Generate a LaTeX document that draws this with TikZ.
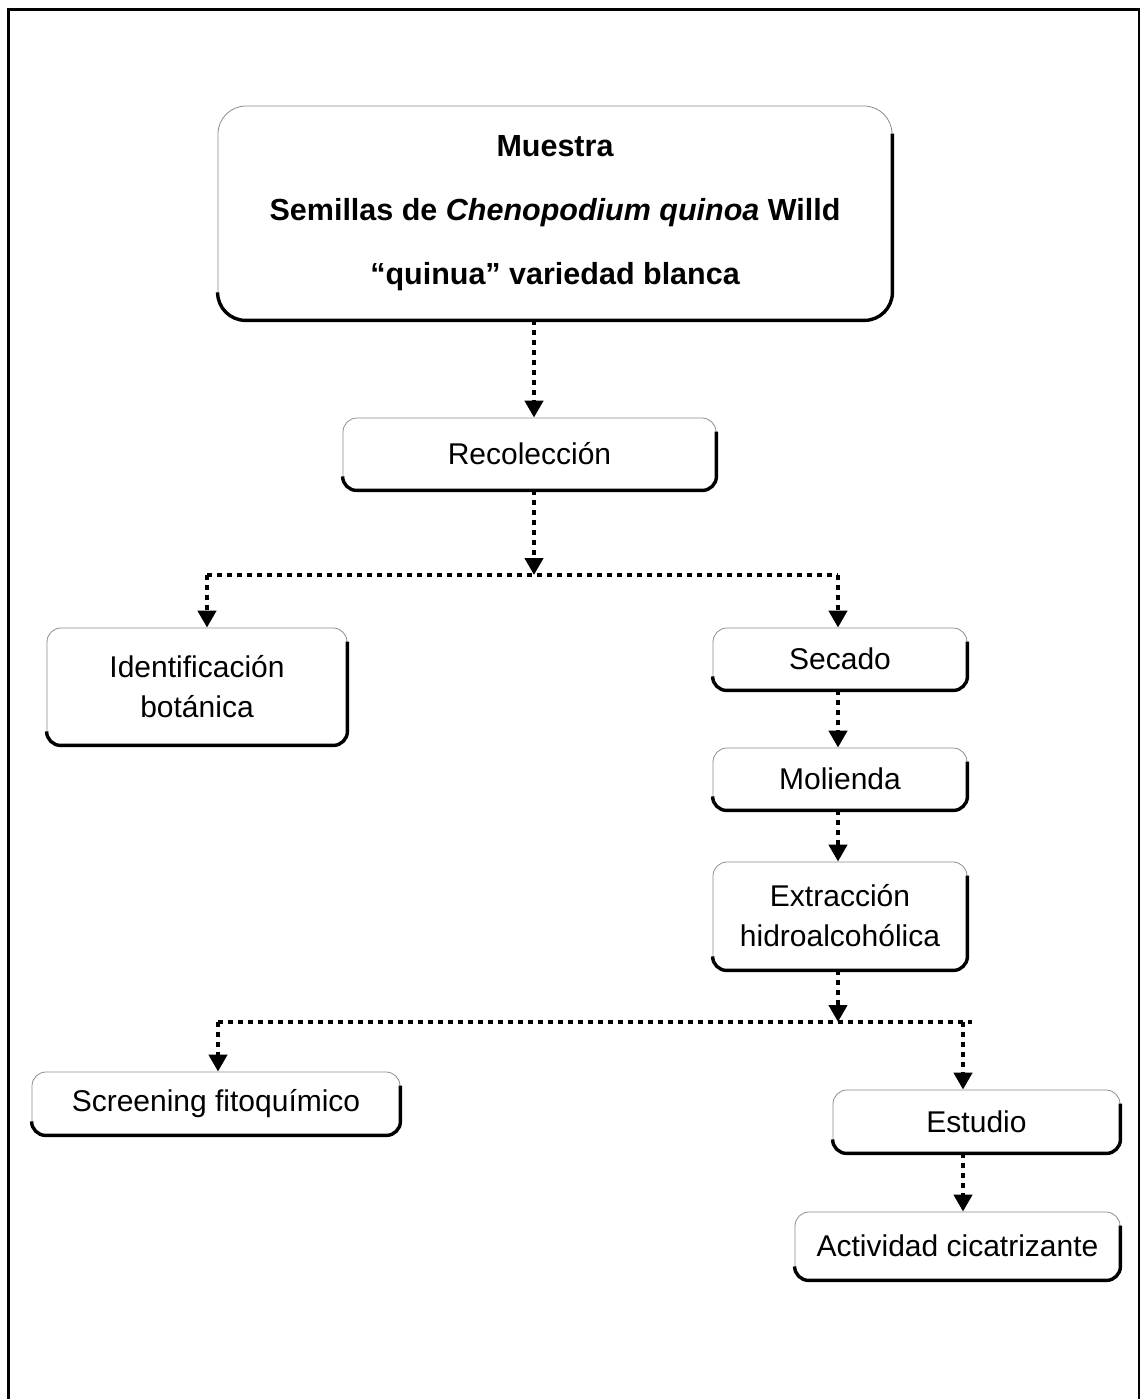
\documentclass[tikz,border=0pt]{standalone}
\usepackage{fontspec}
\setmainfont{Liberation Sans}
\usetikzlibrary{arrows.meta,calc}
\tikzset{
  stepbox/.style={draw=black!45, line width=0.8pt, rounded corners=14pt, align=center,
    inner sep=0pt, font=\fontsize{30}{40}\selectfont},
  bigbox/.style={stepbox, rounded corners=28pt, font=\bfseries\fontsize{30.5}{64}\selectfont},
  heavy/.style={draw=black, line width=3.4pt},
  dots/.style={line width=4.5pt, dash pattern=on 4.5pt off 5.5pt},
  arr/.style={dots, -{Triangle[width=18pt,length=17pt]}},
  frame/.style={line width=2.5pt}
}
\newcommand\shadedge[2]{%
  \draw[heavy, rounded corners=#2] ($(#1.north east)+(0,#2)$) -- (#1.south east) -- (#1.south west) -- ($(#1.south west)+(0,-#2)$);}
\begin{document}
\begin{tikzpicture}[x=1pt,y=-1pt]
\useasboundingbox (0,0) rectangle (1141,1399);
\draw[frame] (8.5,1399) -- (8.5,9.5) -- (1139,9.5) -- (1139,1399);

\node[bigbox, minimum width=674pt, minimum height=214pt] (top) at (555,213)
  {Muestra\\Semillas de \textit{Chenopodium quinoa} Willd\\“quinua” variedad blanca};
\node[stepbox, minimum width=373pt, minimum height=72pt] (rec) at (529.5,454) {Recolección};
\node[stepbox, minimum width=300pt, minimum height=117pt] (ide) at (197,686.5) {Identificación\\botánica};
\node[stepbox, minimum width=254pt, minimum height=62pt] (sec) at (840,659) {Secado};
\node[stepbox, minimum width=254pt, minimum height=62pt] (mol) at (840,779) {Molienda};
\node[stepbox, minimum width=254pt, minimum height=108pt] (ext) at (840,916) {Extracción\\hidroalcohólica};
\node[stepbox, minimum width=368pt, minimum height=63pt] (scr) at (216,1103.5) {Screening fitoquímico};
\node[stepbox, minimum width=287pt, minimum height=63pt] (est) at (976.5,1121.5) {Estudio};
\node[stepbox, minimum width=325pt, minimum height=68pt] (act) at (957.5,1246) {Actividad cicatrizante};

\shadedge{top}{28}
\foreach \n in {rec,ide,sec,mol,ext,scr,est,act} {\shadedge{\n}{14}}

\coordinate (j1) at (534,575);
\coordinate (l1) at (207,575);
\coordinate (r1) at (838,575);
\coordinate (j2) at (838,1022);
\coordinate (l2) at (218,1022);
\coordinate (r2) at (972,1022);
\coordinate (e2) at (963,1022);

\draw[arr] (top.south -| j1) -- (rec.north -| j1);
\draw[arr] (rec.south -| j1) -- (j1);
\draw[dots] (l1) -- (r1);
\draw[arr] (l1) -- (l1 |- ide.north);
\draw[arr] (r1) -- (r1 |- sec.north);
\draw[arr] (sec.south -| r1) -- (mol.north -| r1);
\draw[arr] (mol.south -| r1) -- (ext.north -| r1);
\draw[arr] (ext.south -| j2) -- (j2);
\draw[dots] (l2) -- (r2);
\draw[arr] (l2) -- (l2 |- scr.north);
\draw[arr] (e2) -- (e2 |- est.north);
\draw[arr] (est.south -| e2) -- (act.north -| e2);
\end{tikzpicture}
\end{document}
